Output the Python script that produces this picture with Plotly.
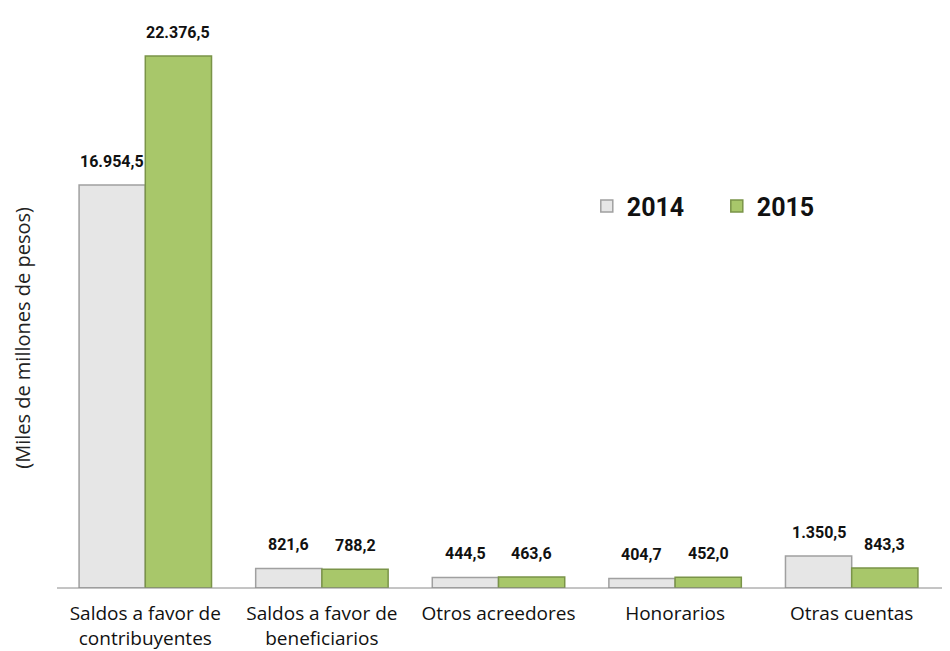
import plotly.graph_objects as go

categories = ["Saldos a favor de<br>contribuyentes", "Saldos a favor de<br>beneficiarios",
              "Otros acreedores", "Honorarios", "Otras cuentas"]
values_2014 = [16954.5, 821.6, 444.5, 404.7, 1350.5]
values_2015 = [22376.5, 788.2, 463.6, 452.0, 843.3]
labels_2014 = ["16.954,5", "821,6", "444,5", "404,7", "1.350,5"]
labels_2015 = ["22.376,5", "788,2", "463,6", "452,0", "843,3"]
y_title = "(Miles de millones de pesos)"

BARGAP = 0.25
half = (1 - BARGAP) / 4  # center offset of each bar within a group

fig = go.Figure()
fig.add_trace(go.Bar(
    name="2014", x=list(range(len(categories))), y=values_2014,
    marker=dict(color="#e6e6e6", line=dict(color="#a0a0a0", width=1.5)),
))
fig.add_trace(go.Bar(
    name="2015", x=list(range(len(categories))), y=values_2015,
    marker=dict(color="#a8c76a", line=dict(color="#7a9448", width=1.5)),
))

label_font = dict(family="Roboto", size=16, color="#111111", weight="bold")
for i in range(len(categories)):
    fig.add_annotation(x=i - half, y=values_2014[i], text=labels_2014[i], showarrow=False,
                       yanchor="bottom", yshift=12, font=label_font)
    fig.add_annotation(x=i + half, y=values_2015[i], text=labels_2015[i], showarrow=False,
                       yanchor="bottom", yshift=12, font=label_font)

fig.add_annotation(xref="paper", yref="paper", x=-0.04, y=0.44, text=y_title,
                   textangle=-90, showarrow=False, xanchor="center", yanchor="middle",
                   font=dict(family="Open Sans", size=20, color="#222222"))

fig.add_shape(type="line", xref="paper", yref="paper", x0=0, x1=1.009, y0=0, y1=0,
              line=dict(color="#8a8a8a", width=1))

fig.update_layout(
    width=950, height=651,
    margin=dict(l=49, r=18, t=12, b=71, autoexpand=False),
    plot_bgcolor="white", paper_bgcolor="white",
    barmode="group", bargap=BARGAP, bargroupgap=0,
    showlegend=True,
    legend=dict(orientation="h", x=0.6, y=0.672, xanchor="left", yanchor="middle",
                font=dict(family="Roboto", size=25, color="#111111", weight="bold"),
                itemwidth=30, traceorder="normal", entrywidth=85),
    xaxis=dict(showline=False, ticks="",
               tickmode="array", tickvals=list(range(len(categories))), ticktext=categories,
               range=[-0.5, len(categories) - 0.5], automargin=False,
               ticklabelstandoff=12,
               tickfont=dict(family="Open Sans", size=19, color="#111111")),
    yaxis=dict(range=[0, 23890], showgrid=False, showticklabels=False, zeroline=False,
               automargin=False),
)
fig.write_html("out.html")
